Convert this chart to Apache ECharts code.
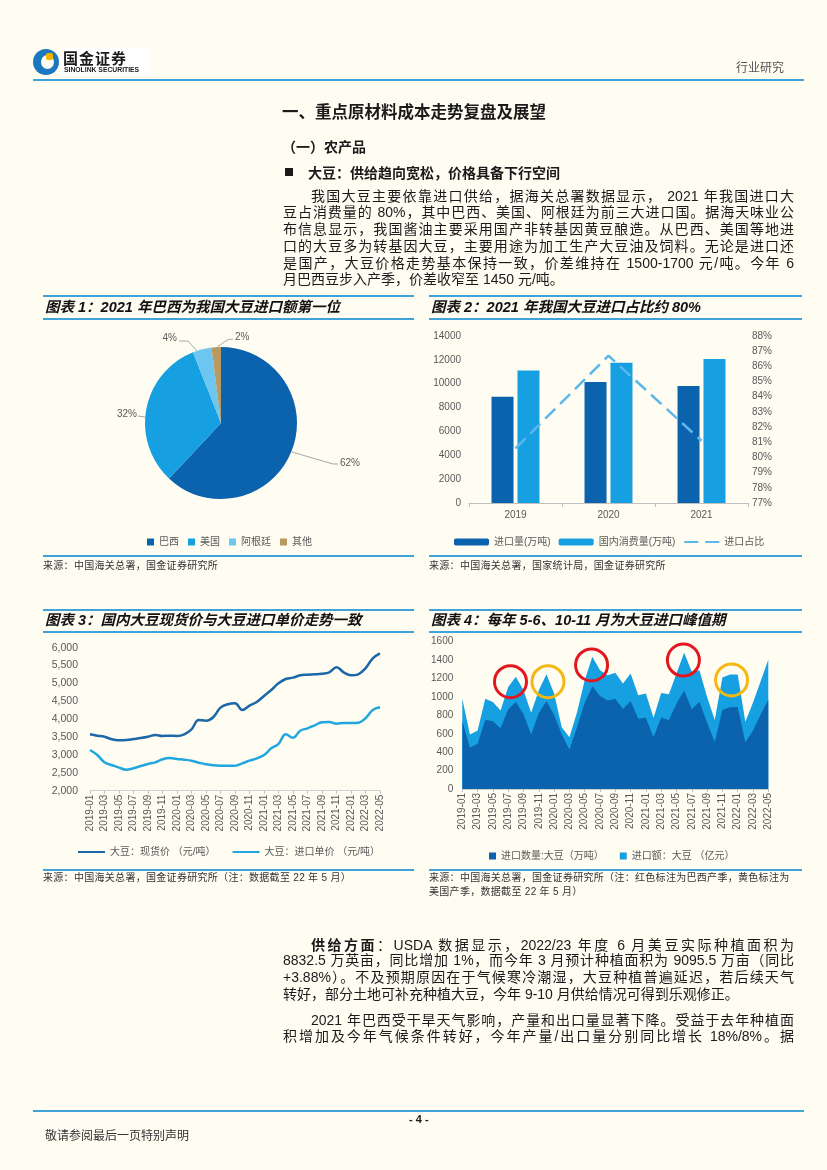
<!DOCTYPE html>
<html lang="zh-CN">
<head>
<meta charset="utf-8">
<title>行业研究</title>
<script src="https://cdn.jsdelivr.net/npm/echarts@6/dist/echarts.min.js"></script>
<style>
html,body{margin:0;padding:0;}
body{width:827px;height:1170px;position:relative;overflow:hidden;background:#fffcf2;font-family:"Liberation Sans","Noto Sans CJK SC",sans-serif;color:#1a1a1a;}
#chart{position:absolute;left:0;top:0;width:827px;height:1170px;z-index:1;}
.t{position:absolute;z-index:2;white-space:nowrap;}
.rule{position:absolute;height:2px;background:#3fa3db;z-index:2;}
.jl{position:absolute;left:283px;width:511px;height:17px;line-height:17px;font-size:14px;text-align:justify;text-align-last:justify;z-index:2;color:#1a1a1a;}
.ll{text-align-last:left;}
.ind{left:311px;width:483px;}
.ct{position:absolute;font-size:14.5px;font-weight:bold;font-style:italic;line-height:18px;z-index:2;color:#111;white-space:nowrap;}
.src{position:absolute;font-size:10px;line-height:13px;color:#333;z-index:2;letter-spacing:0.3px;white-space:nowrap;}
</style>
</head>
<body>
<div id="chart"></div>

<!-- header -->
<div class="t" style="left:33px;top:49px;width:26px;height:26px;border-radius:50%;background:#1b78c0;"></div>
<div class="t" style="left:41px;top:55px;width:13px;height:14px;border-radius:50%;background:#fffcf2;"></div>
<div class="t" style="left:46px;top:53px;width:7px;height:7px;border-radius:2px;background:#f4b400;"></div>
<div class="t" style="left:59px;top:48px;width:91px;height:28px;background:#ffffff;z-index:1;"></div>
<div class="t" style="left:63px;top:50px;font-size:15px;font-weight:bold;letter-spacing:1px;line-height:16px;color:#1a1a1a;font-family:'Noto Sans CJK SC';">国金证券</div>
<div class="t" style="left:64px;top:66px;font-size:6.8px;font-weight:bold;line-height:8px;color:#1a1a1a;">SINOLINK SECURITIES</div>
<div class="t" style="left:736px;top:60px;font-size:12px;line-height:14px;color:#555;font-family:'Noto Sans CJK SC';">行业研究</div>
<div class="rule" style="left:33px;top:79px;width:771px;"></div>

<div class="t" style="left:282px;top:101px;font-size:16.5px;font-weight:bold;line-height:20px;font-family:'Noto Sans CJK SC';">一、重点原材料成本走势复盘及展望</div>
<div class="t" style="left:282px;top:137px;font-size:14px;font-weight:bold;line-height:18px;font-family:'Noto Sans CJK SC';">（一）农产品</div>
<div class="t" style="left:285px;top:168px;width:8px;height:8px;background:#1a1a1a;"></div>
<div class="t" style="left:308px;top:163px;font-size:14px;font-weight:bold;line-height:18px;font-family:'Noto Sans CJK SC';">大豆：供给趋向宽松，价格具备下行空间</div>

<div class="jl ind" style="top:187.5px;">我国大豆主要依靠进口供给，据海关总署数据显示， 2021 年我国进口大</div>
<div class="jl" style="top:204.3px;">豆占消费量的 80%，其中巴西、美国、阿根廷为前三大进口国。据海天味业公</div>
<div class="jl" style="top:221px;">布信息显示，我国酱油主要采用国产非转基因黄豆酿造。从巴西、美国等地进</div>
<div class="jl" style="top:237.8px;">口的大豆多为转基因大豆，主要用途为加工生产大豆油及饲料。无论是进口还</div>
<div class="jl" style="top:254.6px;">是国产，大豆价格走势基本保持一致，价差维持在 1500-1700 元/吨。今年 6</div>
<div class="jl ll" style="top:271.4px;">月巴西豆步入产季，价差收窄至 1450 元/吨。</div>

<!-- chart frames -->
<div class="rule" style="left:43px;top:295px;width:371px;"></div>
<div class="rule" style="left:43px;top:318px;width:371px;"></div>
<div class="rule" style="left:429px;top:295px;width:373px;"></div>
<div class="rule" style="left:429px;top:318px;width:373px;"></div>
<div class="ct" style="left:45px;top:297.5px;">图表 1：2021 年巴西为我国大豆进口额第一位</div>
<div class="ct" style="left:431px;top:297.5px;">图表 2：2021 年我国大豆进口占比约 80%</div>
<div class="rule" style="left:43px;top:555px;width:371px;"></div>
<div class="rule" style="left:429px;top:555px;width:373px;"></div>
<div class="src" style="left:43px;top:559px;">来源：中国海关总署，国金证券研究所</div>
<div class="src" style="left:429px;top:559px;">来源：中国海关总署，国家统计局，国金证券研究所</div>

<div class="rule" style="left:43px;top:608.5px;width:371px;"></div>
<div class="rule" style="left:43px;top:631px;width:371px;"></div>
<div class="rule" style="left:429px;top:608.5px;width:373px;"></div>
<div class="rule" style="left:429px;top:631px;width:373px;"></div>
<div class="ct" style="left:45px;top:611px;">图表 3：国内大豆现货价与大豆进口单价走势一致</div>
<div class="ct" style="left:431px;top:611px;">图表 4：每年 5-6、10-11 月为大豆进口峰值期</div>
<div class="rule" style="left:43px;top:868.5px;width:371px;"></div>
<div class="rule" style="left:429px;top:868.5px;width:373px;"></div>
<div class="src" style="left:43px;top:871px;">来源：中国海关总署，国金证券研究所（注：数据截至 22 年 5 月）</div>
<div class="src" style="left:429px;top:871px;">来源：中国海关总署，国金证券研究所（注：红色标注为巴西产季，黄色标注为</div>
<div class="src" style="left:429px;top:884.5px;">美国产季，数据截至 22 年 5 月）</div>

<!-- lower text -->
<div class="jl ind" style="top:935.5px;"><b style="font-family:'Noto Sans CJK SC';">供给方面</b>：USDA 数据显示，2022/23 年度 6 月美豆实际种植面积为</div>
<div class="jl" style="top:952.2px;">8832.5 万英亩，同比增加 1%，而今年 3 月预计种植面积为 9095.5 万亩（同比</div>
<div class="jl" style="top:968.9px;">+3.88%）。不及预期原因在于气候寒冷潮湿，大豆种植普遍延迟，若后续天气</div>
<div class="jl ll" style="top:985.6px;">转好，部分土地可补充种植大豆，今年 9-10 月供给情况可得到乐观修正。</div>
<div class="jl ind" style="top:1011.5px;">2021 年巴西受干旱天气影响，产量和出口量显著下降。受益于去年种植面</div>
<div class="jl" style="top:1028.2px;">积增加及今年气候条件转好，今年产量/出口量分别同比增长 18%/8%。据</div>

<div class="rule" style="left:33px;top:1110px;width:771px;"></div>
<div class="t" style="left:409px;top:1112px;font-size:11px;font-weight:bold;line-height:14px;">- 4 -</div>
<div class="t" style="left:45px;top:1128px;font-size:12px;line-height:14px;color:#333;font-family:'Noto Sans CJK SC';">敬请参阅最后一页特别声明</div>

<script>
// ---------- data ----------
const pieNames = ['巴西', '美国', '阿根廷', '其他'];
const pieValues = [62, 32, 4, 2];

const barYears = ['2019', '2020', '2021'];
const importVolume = [8900, 10150, 9800];
const domesticUse = [11100, 11750, 12080];
const importShare = [80.6, 86.7, 81.1];

const months = ['2019-01','2019-02','2019-03','2019-04','2019-05','2019-06','2019-07','2019-08','2019-09','2019-10','2019-11','2019-12',
  '2020-01','2020-02','2020-03','2020-04','2020-05','2020-06','2020-07','2020-08','2020-09','2020-10','2020-11','2020-12',
  '2021-01','2021-02','2021-03','2021-04','2021-05','2021-06','2021-07','2021-08','2021-09','2021-10','2021-11','2021-12',
  '2022-01','2022-02','2022-03','2022-04','2022-05'];

const spotPrice = [3578,3539,3510,3438,3410,3418,3446,3474,3510,3558,3530,3539,
  3530,3578,3718,3978,3958,4053,4322,4417,4445,4257,4378,4481,
  4649,4817,5004,5124,5162,5228,5245,5256,5274,5312,5452,5312,
  5228,5256,5424,5704,5844];
const importPrice = [3138,2999,2794,2719,2645,2588,2627,2691,2747,2794,2878,2915,
  2887,2868,2840,2784,2738,2710,2700,2700,2700,2766,2840,2906,
  2999,3185,3308,3578,3483,3679,3745,3829,3913,3922,3875,3894,
  3894,3903,4025,4257,4332];

const importQty = [738,449,492,751,737,661,865,946,815,592,826,954,
  806,591,428,672,938,1116,1009,960,979,869,956,762,
  773,562,777,748,930,1070,867,949,720,511,857,887,
  890,507,635,808,967];
const importValue = [981,591,635,981,945,853,1109,1218,1072,828,1072,1247,
  1036,671,562,835,1182,1437,1291,1236,1262,1145,1255,1017,
  1036,773,1043,1028,1255,1480,1273,1290,1000,750,1211,1244,
  1244,730,940,1170,1405];

// annotation rings: [month position, value]
const brazilSeason = [[6.3, 1166], [16.9, 1347], [28.9, 1401], [40.1, 1380]];
const usSeason = [[11.2, 1166], [35.2, 1184]];

// ---------- styles ----------
const FONT = '"Liberation Sans","Noto Sans CJK SC",sans-serif';
const GRAY = '#595959';
const DARK = '#0b63ae';
const LIGHT = '#16a0e2';
const PALE = '#6cc6ef';
const TAN = '#b8995f';
const pieColors = [DARK, LIGHT, PALE, TAN];

// pie label placement (page pixels)
const pieLabelLayout = [
  {x: 340, y: 463, align: 'left', line: [[292, 452], [333, 464], [338, 464]]},
  {x: 137, y: 414, align: 'right', line: [[145, 417], [138, 416]]},
  {x: 177, y: 338, align: 'right', line: [[198, 352], [188, 341], [179, 341]]},
  {x: 235, y: 337, align: 'left', line: [[216, 348], [227, 340], [233, 339]]}
];

const chart = echarts.init(document.getElementById('chart'), null, {renderer: 'canvas'});

const monthAxis = (gi) => ({
  type: 'category', gridIndex: gi, data: months, boundaryGap: false,
  axisLine: {lineStyle: {color: '#cfcfcf', width: 1}},
  axisTick: {show: true, interval: 1, length: 3, lineStyle: {color: '#bfbfbf'}},
  axisLabel: {rotate: 90, interval: 1, fontSize: 10, color: GRAY, margin: 4}
});
const plain = v => String(v);
const hideSymbol = {opacity: 0};

const option = {
  animation: false,
  textStyle: {fontFamily: FONT},
  legend: [
    {data: pieNames, left: 142, top: 532, icon: 'rect', itemWidth: 7, itemHeight: 7, itemGap: 9,
     textStyle: {fontSize: 10, color: GRAY, fontFamily: FONT}},
    {data: ['进口量(万吨)', '国内消费量(万吨)', {name: '进口占比', itemStyle: hideSymbol}],
     left: 449, top: 532, itemWidth: 35, itemHeight: 7, itemGap: 8,
     textStyle: {fontSize: 10, color: GRAY, fontFamily: FONT}},
    {data: [{name: '大豆：现货价 （元/吨）', itemStyle: hideSymbol}, {name: '大豆：进口单价 （元/吨）', itemStyle: hideSymbol}],
     left: 72, top: 842, itemWidth: 27, itemHeight: 10, itemGap: 16,
     textStyle: {fontSize: 10, color: GRAY, fontFamily: FONT}},
    {data: ['进口数量:大豆（万吨）', '进口额：大豆 （亿元）'], left: 484, top: 846, icon: 'rect', itemWidth: 7, itemHeight: 7, itemGap: 16,
     textStyle: {fontSize: 10, color: GRAY, fontFamily: FONT}}
  ],
  grid: [
    {left: 469, top: 336, width: 279, height: 167},
    {left: 90, top: 647.7, width: 290, height: 143},
    {left: 462.3, top: 641.7, width: 306, height: 147.3}
  ],
  xAxis: [
    {type: 'category', gridIndex: 0, data: barYears,
     axisLine: {lineStyle: {color: '#bfbfbf'}},
     axisTick: {show: true, length: 4, lineStyle: {color: '#bfbfbf'}},
     axisLabel: {fontSize: 10, color: GRAY, margin: 7}},
    monthAxis(1),
    monthAxis(2),
    {type: 'value', gridIndex: 2, min: 0, max: 40, show: false}
  ],
  yAxis: [
    {type: 'value', gridIndex: 0, min: 0, max: 14000, interval: 2000,
     axisLine: {show: false}, axisTick: {show: false}, splitLine: {show: false},
     axisLabel: {fontSize: 10, color: GRAY, margin: 8, formatter: plain}},
    {type: 'value', gridIndex: 0, position: 'right', min: 77, max: 88, interval: 1,
     axisLine: {show: false}, axisTick: {show: false}, splitLine: {show: false},
     axisLabel: {fontSize: 10, color: GRAY, margin: 4, formatter: v => v + '%'}},
    {type: 'value', gridIndex: 1, min: 2000, max: 6000, interval: 500,
     axisLine: {show: false}, axisTick: {show: false}, splitLine: {show: false},
     axisLabel: {fontSize: 10.5, color: GRAY, margin: 12, formatter: v => v.toLocaleString('en-US')}},
    {type: 'value', gridIndex: 2, min: 0, max: 1600, interval: 200,
     axisLine: {show: false}, axisTick: {show: false}, splitLine: {show: false},
     axisLabel: {fontSize: 10, color: GRAY, margin: 9, formatter: plain}}
  ],
  series: [
    {type: 'pie', name: '来源国', center: [221, 423], radius: 76, startAngle: 90,
     data: pieNames.map((n, i) => ({name: n, value: pieValues[i], itemStyle: {color: pieColors[i]}})),
     label: {formatter: '{c}%', fontSize: 10, color: GRAY, fontFamily: FONT},
     labelLine: {length: 14, length2: 8, lineStyle: {color: '#a6a6a6', width: 1}},
     labelLayout: p => {
       const L = pieLabelLayout[p.dataIndex];
       return {x: L.x, y: L.y, align: L.align, verticalAlign: 'middle', labelLinePoints: L.line};
     }},

    {type: 'bar', name: '进口量(万吨)', xAxisIndex: 0, yAxisIndex: 0, data: importVolume,
     barWidth: 22, barGap: '18%', itemStyle: {color: DARK}},
    {type: 'bar', name: '国内消费量(万吨)', xAxisIndex: 0, yAxisIndex: 0, data: domesticUse,
     barWidth: 22, barGap: '18%', itemStyle: {color: LIGHT}},
    {type: 'line', name: '进口占比', xAxisIndex: 0, yAxisIndex: 1, data: importShare,
     symbol: 'none', lineStyle: {color: '#5cb8ea', width: 2.5, type: [14, 7]}, itemStyle: {color: '#5cb8ea'}, z: 5},

    {type: 'line', name: '大豆：现货价 （元/吨）', xAxisIndex: 1, yAxisIndex: 2, data: spotPrice, smooth: 0.4,
     symbol: 'none', lineStyle: {color: '#1b67a8', width: 2.5}, itemStyle: {color: '#1b67a8'}},
    {type: 'line', name: '大豆：进口单价 （元/吨）', xAxisIndex: 1, yAxisIndex: 2, data: importPrice, smooth: 0.4,
     symbol: 'none', lineStyle: {color: '#22a6df', width: 2.5}, itemStyle: {color: '#22a6df'}},

    {type: 'line', name: '进口额：大豆 （亿元）', xAxisIndex: 2, yAxisIndex: 3, data: importValue,
     symbol: 'none', lineStyle: {width: 0}, areaStyle: {color: LIGHT, opacity: 1}, itemStyle: {color: LIGHT}},
    {type: 'line', name: '进口数量:大豆（万吨）', xAxisIndex: 2, yAxisIndex: 3, data: importQty,
     symbol: 'none', lineStyle: {width: 0}, areaStyle: {color: DARK, opacity: 1}, itemStyle: {color: DARK}},
    {type: 'scatter', name: '巴西产季', xAxisIndex: 3, yAxisIndex: 3, data: brazilSeason, silent: true, z: 10,
     symbol: 'circle', symbolSize: (v, p) => (p.dataIndex === 3 ? 20 : 32),
     itemStyle: {color: 'rgba(0,0,0,0)', borderColor: '#e3161e', borderWidth: 3, opacity: 1}},
    {type: 'scatter', name: '美国产季', xAxisIndex: 3, yAxisIndex: 3, data: usSeason, silent: true, z: 10,
     symbol: 'circle', symbolSize: 32,
     itemStyle: {color: 'rgba(0,0,0,0)', borderColor: '#f4b810', borderWidth: 3, opacity: 1}}
  ]
};
chart.setOption(option);
</script>
</body>
</html>
